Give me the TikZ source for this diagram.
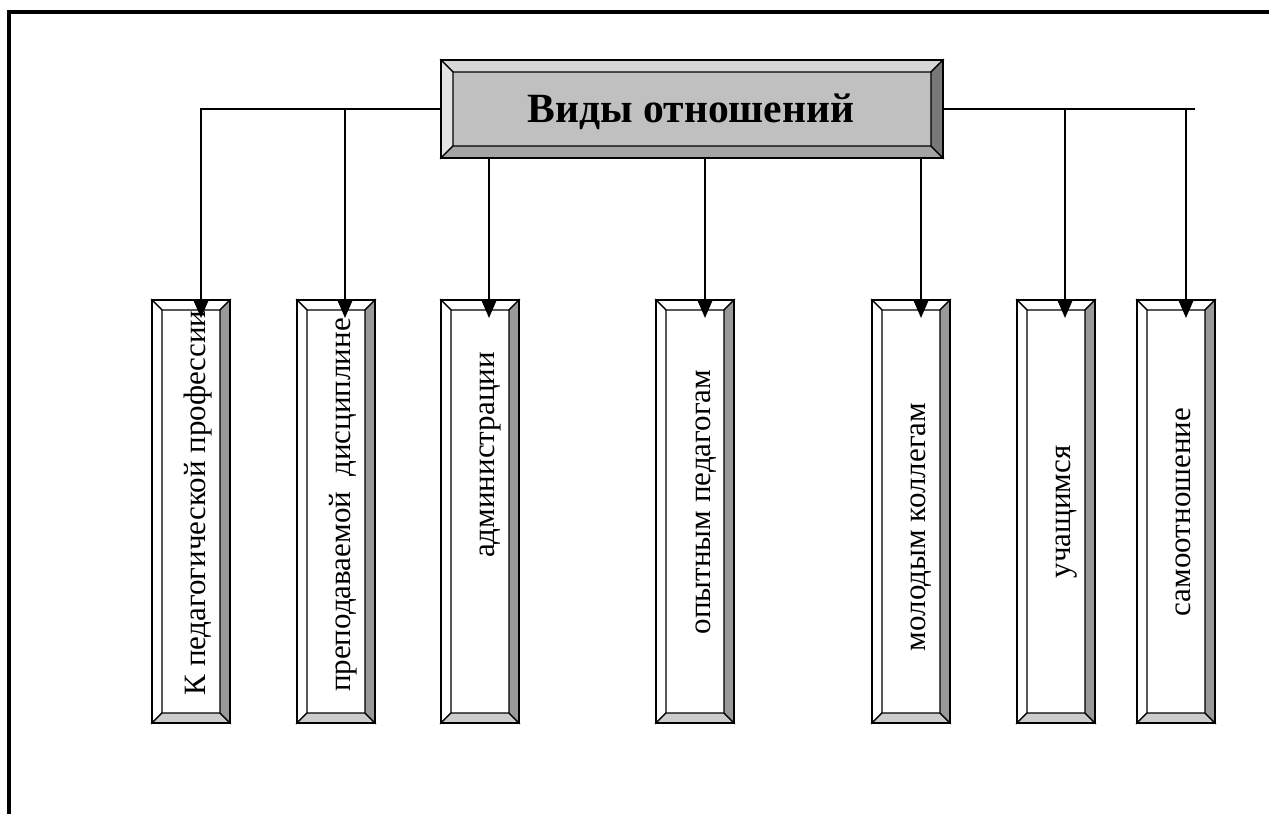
\documentclass[tikz,border=0pt]{standalone}
\usepackage{fontspec}
\setmainfont{Liberation Serif}
\usetikzlibrary{calc,arrows.meta}

% Bevel frame around a rectangular node: #1 node, #2 bevel width,
% #3 top, #4 left, #5 bottom, #6 right colour
\newcommand\bevelframe[6]{%
  \path ($(#1.north west)+(#2,#2)$) coordinate (#1-i1)
        ($(#1.north east)+(-#2,#2)$) coordinate (#1-i2)
        ($(#1.south east)+(-#2,-#2)$) coordinate (#1-i3)
        ($(#1.south west)+(#2,-#2)$) coordinate (#1-i4);
  \filldraw[bevelline,fill=#3] (#1.north west) -- (#1.north east) -- (#1-i2) -- (#1-i1) -- cycle;
  \filldraw[bevelline,fill=#4] (#1.north west) -- (#1.south west) -- (#1-i4) -- (#1-i1) -- cycle;
  \filldraw[bevelline,fill=#5] (#1.south west) -- (#1.south east) -- (#1-i3) -- (#1-i4) -- cycle;
  \filldraw[bevelline,fill=#6] (#1.north east) -- (#1.south east) -- (#1-i3) -- (#1-i2) -- cycle;
  \draw[boxline] (#1.north west) rectangle (#1.south east);
}

\begin{document}
\begin{tikzpicture}[x=0.5pt,y=-0.5pt,
  frame/.style={line width=2pt},
  conn/.style={line width=1pt},
  arr/.style={conn,-{Triangle[length=9pt,width=7.5pt]}},
  boxline/.style={line width=1pt},
  bevelline/.style={line width=0.6pt},
  titlebox/.style={draw,boxline,fill=face,inner sep=0pt,outer sep=0pt,anchor=north west,
    minimum width=251pt,minimum height=49pt},
  childbox/.style={draw,boxline,fill=white,inner sep=0pt,outer sep=0pt,anchor=north west,
    minimum width=39pt,minimum height=211.5pt},
  childtext/.style={rotate=90,anchor=base,inner sep=0pt,font=\fontsize{15.5}{18}\selectfont},
]
\definecolor{face}{HTML}{C0C0C0}
\definecolor{tlight}{HTML}{D6D6D6}
\definecolor{llight}{HTML}{E4E4E4}
\definecolor{bdark}{HTML}{A4A4A4}
\definecolor{rdark}{HTML}{787878}
\definecolor{cbottom}{HTML}{CCCCCC}
\definecolor{cright}{HTML}{999999}

\useasboundingbox (0,0) rectangle (1269,814);

% page frame
\draw[frame] (9,814) -- (9,12) -- (1269,12);

% title
\node[titlebox] (T) at (441,60) {};
\bevelframe{T}{12}{tlight}{llight}{bdark}{rdark}
\node[anchor=base,inner sep=0pt] (Ttext) at (691,122) {\fontsize{20.8}{24}\selectfont\bfseries Виды отношений};

% child boxes
\node[childbox] (c1) at (152,300) {};
\node[childbox] (c2) at (297,300) {};
\node[childbox] (c3) at (441,300) {};
\node[childbox] (c4) at (656,300) {};
\node[childbox] (c5) at (872,300) {};
\node[childbox] (c6) at (1017,300) {};
\node[childbox] (c7) at (1137,300) {};
\foreach \n in {c1,c2,c3,c4,c5,c6,c7}{
  \bevelframe{\n}{10}{white}{white}{cbottom}{cright}
}

% texts
\node[childtext] (t1) at (205,503) {К педагогической профессии};
\node[childtext] (t2) at (350,505) {преподаваемой\ \ дисциплине};
\node[childtext] (t3) at (494,455) {администрации};
\node[childtext] (t4) at (710,502) {опытным педагогам};
\node[childtext] (t5) at (925,527) {молодым коллегам};
\node[childtext] (t6) at (1070,512) {учащимся};
\node[childtext] (t7) at (1190,512) {самоотношение};

% arrow tips
\coordinate (a1) at ($(c1.north west)+(49,18)$);
\coordinate (a2) at ($(c2.north west)+(48,18)$);
\coordinate (a3) at ($(c3.north west)+(48,18)$);
\coordinate (a4) at ($(c4.north west)+(49,18)$);
\coordinate (a5) at ($(c5.north west)+(49,18)$);
\coordinate (a6) at ($(c6.north west)+(48,18)$);
\coordinate (a7) at ($(c7.north west)+(49,18)$);
\coordinate (rend) at (1195,109);

% connectors
\draw[arr] (T.west) -| (a1);
\draw[arr] (T.west) -| (a2);
\draw[arr] (a3 |- T.south) -- (a3);
\draw[arr] (a4 |- T.south) -- (a4);
\draw[arr] (a5 |- T.south) -- (a5);
\draw[conn] (T.east) -- (rend);
\draw[arr] (T.east) -| (a6);
\draw[arr] (T.east) -| (a7);
\end{tikzpicture}
\end{document}
